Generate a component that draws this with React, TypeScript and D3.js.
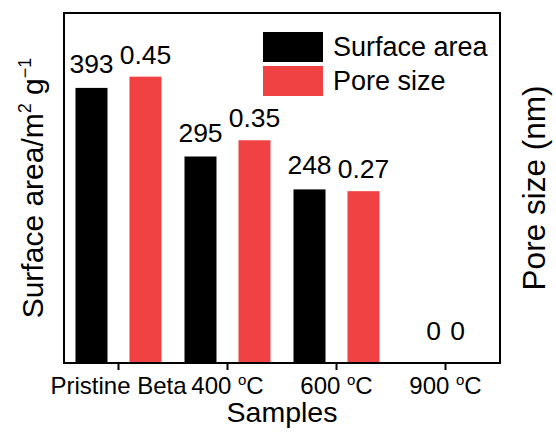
import React from 'react';
import * as d3 from 'd3';

// chart data
const samples = ['Pristine Beta', '400 °C', '600 °C', '900 °C'];
const surfaceArea = [393, 295, 248, 0];
const poreSize = [0.45, 0.35, 0.27, 0];
const surfaceLabels = ['393', '295', '248', '0'];
const poreLabels = ['0.45', '0.35', '0.27', '0'];
const seriesNames = ['Surface area', 'Pore size'];

const width = 556;
const height = 432;
const margin = { top: 13, right: 56, bottom: 69, left: 64 };
const font = 'Liberation Sans, Arial, Helvetica, sans-serif';
const red = '#f04242';

// renders "400 °C" with a raised small o, like the original figure
const DegreeLabel = ({ text }) => {
  if (!text.includes('°')) return <>{text}</>;
  const [pre, post] = text.split('°');
  return (
    <>
      {pre}
      <tspan fontSize="15" dy="-9">o</tspan>
      <tspan dy="9">{post}</tspan>
    </>
  );
};

const App = () => {
  const x = d3.scaleBand()
    .domain(samples)
    .range([margin.left, width - margin.right])
    .padding(0);

  const yLeft = d3.scaleLinear()
    .domain([0, 500])
    .range([height - margin.bottom, margin.top]);

  const yRight = d3.scaleLinear()
    .domain([0, 0.55])
    .range([height - margin.bottom, margin.top]);

  const barW = 32;
  const offset = 27;
  const bottom = height - margin.bottom;
  const plotW = width - margin.left - margin.right;
  const plotH = bottom - margin.top;
  const midY = margin.top + plotH / 2;

  return (
    <svg width={width} height={height} style={{ position: 'absolute', left: 0, top: 0, background: '#fff' }}
      fontFamily={font}>
      {/* bars */}
      {samples.map((s, i) => {
        const cx = x(s) + x.bandwidth() / 2;
        return (
          <g key={s}>
            <rect x={cx - offset - barW / 2} y={yLeft(surfaceArea[i])} width={barW}
              height={bottom - yLeft(surfaceArea[i])} fill="#000" />
            <rect x={cx + offset - barW / 2} y={yRight(poreSize[i])} width={barW}
              height={bottom - yRight(poreSize[i])} fill={red} />
          </g>
        );
      })}

      {/* value labels */}
      {samples.map((s, i) => {
        const cx = x(s) + x.bandwidth() / 2;
        const dx = surfaceArea[i] === 0 ? 12 : offset;
        return (
          <g key={'l' + s} fontSize="26.5" textAnchor="middle" fill="#000">
            <text x={cx - dx} y={yLeft(surfaceArea[i]) - (surfaceArea[i] === 0 ? 23 : 15)}>{surfaceLabels[i]}</text>
            <text x={cx + dx} y={yRight(poreSize[i]) - (poreSize[i] === 0 ? 23 : 13)}>{poreLabels[i]}</text>
          </g>
        );
      })}

      {/* frame */}
      <rect x={margin.left} y={margin.top} width={plotW} height={plotH} fill="none" stroke="#000" strokeWidth="2" />

      {/* x ticks */}
      {samples.map(s => {
        const cx = x(s) + x.bandwidth() / 2;
        return (
          <g key={'t' + s}>
            <line x1={cx} x2={cx} y1={bottom} y2={bottom + 7} stroke="#000" strokeWidth="2" />
            <text x={cx} y={bottom + 31} fontSize="24" textAnchor="middle">
              <DegreeLabel text={s} />
            </text>
          </g>
        );
      })}

      {/* axis titles */}
      <text x={margin.left + plotW / 2} y={422} fontSize="28.5" textAnchor="middle">Samples</text>
      <text transform={`translate(43,${midY}) rotate(-90)`} fontSize="30" textAnchor="middle">
        Surface area/m<tspan fontSize="18" dy="-12">2</tspan><tspan dy="12"> g</tspan>
        <tspan fontSize="18" dy="-12">−1</tspan>
      </text>
      <text transform={`translate(545,${midY}) rotate(-90)`} fontSize="31.5" textAnchor="middle">Pore size (nm)</text>

      {/* legend */}
      {seriesNames.map((n, i) => (
        <g key={n} transform={`translate(263,${32 + i * 34})`}>
          <rect width="60" height="30" fill={i === 0 ? '#000' : red} />
          <text x="70" y="24" fontSize="27" >{n}</text>
        </g>
      ))}
    </svg>
  );
};

export default App;
